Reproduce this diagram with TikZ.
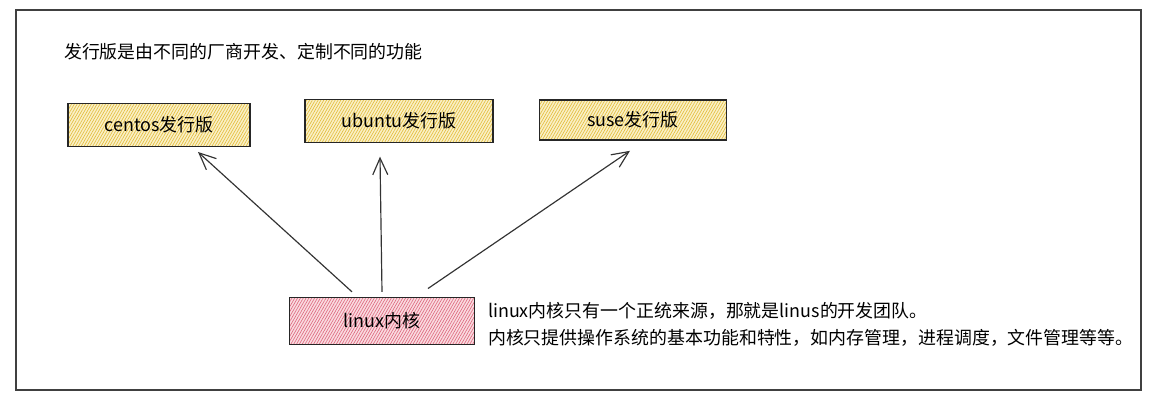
\documentclass[tikz,border=0pt]{standalone}
\usepackage{fontspec}
\setmainfont{Noto Sans CJK SC}
\usetikzlibrary{arrows.meta,patterns.meta}
\definecolor{distline}{HTML}{E3BE3C}
\definecolor{distfill}{HTML}{FAF0C8}
\definecolor{kernline}{HTML}{DE6A80}
\definecolor{kernfill}{HTML}{FADCE1}
\begin{document}
\begin{tikzpicture}[x=0.3mm,y=-0.3mm, every node/.style={font=\fontsize{15.3}{23}\selectfont},
    distbox/.style={draw=black!85, line width=1.4pt, minimum height=13mm,
        preaction={fill=distfill}, pattern={Lines[angle=60,distance=2.1pt,line width=.55pt]}, pattern color=distline},
    kernbox/.style={draw=black!85, line width=1.4pt, minimum width=55.5mm, minimum height=14mm,
        preaction={fill=kernfill}, pattern={Lines[angle=60,distance=2.1pt,line width=.55pt]}, pattern color=kernline},
    arr/.style={draw=black!80, line width=1pt, -{Straight Barb[length=5mm,width=4.5mm]}}]
        \useasboundingbox (0,0) rectangle (1152,410);
        \draw[black!75, line width=1.5pt] (16,10) rectangle (1141,390);
        \node[anchor=west] (title) at (60,52){发行版是由不同的厂商开发、定制不同的功能};
        \node[distbox, minimum width=54.6mm] (centos) at (159,125){centos发行版};
        \node[distbox, minimum width=56.4mm, minimum height=12.9mm] (ubuntu) at (399,121){ubuntu发行版};
        \node[distbox, minimum width=56.1mm, minimum height=12mm] (suse) at (633,120){suse发行版};
        \node[kernbox] (linux) at (382,321){linux内核};
        \node[anchor=west, align=left] (note) at (484,324){linux内核只有一个正统来源，那就是linus的开发团队。\\
            内核只提供操作系统的基本功能和特性，如内存管理，进程调度，文件管理等等。};
        \draw[arr] ([xshift=-9mm,yshift=1.5mm]linux.north) -- ([xshift=11.7mm,yshift=-1.5mm]centos.south);
        \draw[arr] ([xshift=0mm,yshift=1.5mm]linux.north) -- ([xshift=-5.7mm,yshift=-4mm]ubuntu.south);
        \draw[arr] ([xshift=13.8mm,yshift=2.5mm]linux.north) -- ([xshift=-0.9mm,yshift=-3mm]suse.south);
    \end{tikzpicture}
\end{document}
